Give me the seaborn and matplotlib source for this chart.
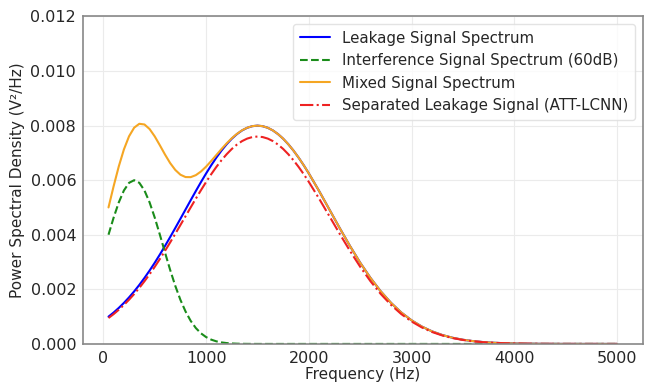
import matplotlib
matplotlib.use("Agg")
import matplotlib.pyplot as plt
import seaborn as sns
import pandas as pd

freq = [50, 100, 150, 200, 250, 300, 350, 400, 450, 500, 550, 600, 650, 700, 750, 800,
        850, 900, 950, 1000, 1050, 1100, 1150, 1200, 1250, 1300, 1350, 1400, 1450, 1500,
        1550, 1600, 1650, 1700, 1750, 1800, 1850, 1900, 1950, 2000,
        2100, 2200, 2300, 2400, 2500, 2600, 2700, 2800, 2900, 3000,
        3100, 3200, 3300, 3400, 3500, 3600, 3700, 3800, 3900, 4000,
        4100, 4200, 4300, 4400, 4500, 4600, 4700, 4800, 4900, 5000]

leakage = [0.001000, 0.001151, 0.001319, 0.001504, 0.001706, 0.001926, 0.002163, 0.002418,
           0.002689, 0.002975, 0.003277, 0.003591, 0.003915, 0.004248, 0.004586, 0.004927,
           0.005267, 0.005603, 0.005931, 0.006247, 0.006548, 0.006829, 0.007087, 0.007318,
           0.007521, 0.007689, 0.007824, 0.007921, 0.007980, 0.008000,
           0.007980, 0.007921, 0.007824, 0.007689, 0.007521, 0.007318, 0.007087, 0.006829,
           0.006548, 0.006247,
           0.005603, 0.004927, 0.004248, 0.003591, 0.002975, 0.002418, 0.001926, 0.001504,
           0.001151, 0.000864,
           0.000636, 0.000459, 0.000325, 0.000225, 0.000153, 0.000102, 0.0000667, 0.0000427,
           0.0000269, 0.0000166,
           0.0000100, 0.0000059, 0.0000034, 0.0000020, 0.0000011, 0.0000006, 0.0000003,
           0.0000002, 0.0000001, 0.0000000]

interference = [0.004002, 0.004630, 0.005186, 0.005624, 0.005904, 0.006000, 0.005904, 0.005624,
                0.005186, 0.004630, 0.004002, 0.003349, 0.002713, 0.002128, 0.001615, 0.001188,
                0.000845, 0.000582, 0.000388, 0.000251, 0.000157, 0.0000948, 0.0000556, 0.0000315,
                0.0000173, 0.0000092, 0.0000047, 0.0000024, 0.0000011, 0.0000005,
                0.0000002, 0.0000001, 0.0, 0.0, 0.0, 0.0, 0.0, 0.0, 0.0, 0.0,
                0.0, 0.0, 0.0, 0.0, 0.0, 0.0, 0.0, 0.0, 0.0, 0.0,
                0.0, 0.0, 0.0, 0.0, 0.0, 0.0, 0.0, 0.0, 0.0, 0.0,
                0.0, 0.0, 0.0, 0.0, 0.0, 0.0, 0.0, 0.0, 0.0, 0.0]

mixed = [0.005002, 0.005781, 0.006505, 0.007128, 0.007610, 0.007926, 0.008067, 0.008042,
         0.007875, 0.007605, 0.007279, 0.006940, 0.006628, 0.006376, 0.006201, 0.006115,
         0.006112, 0.006185, 0.006319, 0.006498, 0.006705, 0.006924, 0.007143, 0.007350,
         0.007538, 0.007698, 0.007829, 0.007923, 0.007981, 0.008000,
         0.007980, 0.007921, 0.007824, 0.007689, 0.007521, 0.007318, 0.007087, 0.006829,
         0.006548, 0.006247,
         0.005603, 0.004927, 0.004248, 0.003591, 0.002975, 0.002418, 0.001926, 0.001504,
         0.001151, 0.000864,
         0.000636, 0.000459, 0.000325, 0.000225, 0.000153, 0.000102, 0.0000667, 0.0000427,
         0.0000269, 0.0000166,
         0.0000100, 0.0000059, 0.0000034, 0.0000020, 0.0000011, 0.0000006, 0.0000003,
         0.0000002, 0.0000001, 0.0000000]

separated = [0.000950, 0.001093, 0.001253, 0.001429, 0.001621, 0.001830, 0.002055, 0.002297,
             0.002555, 0.002826, 0.003113, 0.003411, 0.003719, 0.004036, 0.004357, 0.004681,
             0.005004, 0.005323, 0.005634, 0.005935, 0.006221, 0.006488, 0.006733, 0.006952,
             0.007145, 0.007305, 0.007433, 0.007525, 0.007581, 0.007600,
             0.007581, 0.007525, 0.007433, 0.007305, 0.007145, 0.006952, 0.006733, 0.006488,
             0.006221, 0.005935,
             0.005323, 0.004681, 0.004036, 0.003411, 0.002826, 0.002297, 0.001830, 0.001429,
             0.001093, 0.000821,
             0.000604, 0.000436, 0.000309, 0.000214, 0.000145, 0.000097, 0.000063, 0.000041,
             0.000026, 0.000016,
             0.0000095, 0.0000056, 0.0000032, 0.0000019, 0.0000010, 0.0000006, 0.0000003,
             0.0000002, 0.0000001, 0.0000001]

labels = ["Leakage Signal Spectrum", "Interference Signal Spectrum (60dB)",
          "Mixed Signal Spectrum", "Separated Leakage Signal (ATT-LCNN)"]
x_ticks = [0, 1000, 2000, 3000, 4000, 5000]
y_ticks = [0.000, 0.002, 0.004, 0.006, 0.008, 0.010, 0.012]

sns.set_style("whitegrid")
plt.rcParams['font.family'] = ['DejaVu Sans']

fig = plt.figure(figsize=(6.49, 3.83), dpi=100)
ax = fig.add_axes([0.128, 0.102, 0.862, 0.855])

series = [leakage, interference, mixed, separated]
colors = ["#0000ff", "#1a8c1a", "#f5a623", "#ee2222"]
styles = ["-", "--", "-", "-."]
for vals, lab, c, ls in zip(series, labels, colors, styles):
    df = pd.DataFrame({"Frequency": freq, "PSD": vals})
    sns.lineplot(data=df, x="Frequency", y="PSD", ax=ax, label=lab, color=c,
                 linestyle=ls, linewidth=1.5)

ax.set_ylim(0, 0.012)
ax.set_xticks(x_ticks)
ax.set_yticks(y_ticks)
ax.set_yticklabels([f"{v:.3f}" for v in y_ticks])
ax.set_xlabel("Frequency (Hz)", fontsize=11, labelpad=1)
ax.set_ylabel("Power Spectral Density (V²/Hz)", fontsize=11, labelpad=4)
ax.tick_params(axis="both", labelsize=11.5, length=3, color="#888888", pad=2)
ax.grid(True, color="#ebebeb", linewidth=0.8)
for s in ax.spines.values():
    s.set_visible(True)
    s.set_color("#888888")
    s.set_linewidth(1.2)

leg = ax.legend(loc="upper right", fontsize=10.8, frameon=True, fancybox=True,
                borderpad=0.45, labelspacing=0.5, handlelength=2.0, borderaxespad=0.5)
leg.get_frame().set_edgecolor("#dddddd")

fig.savefig("out.png", dpi=100)
